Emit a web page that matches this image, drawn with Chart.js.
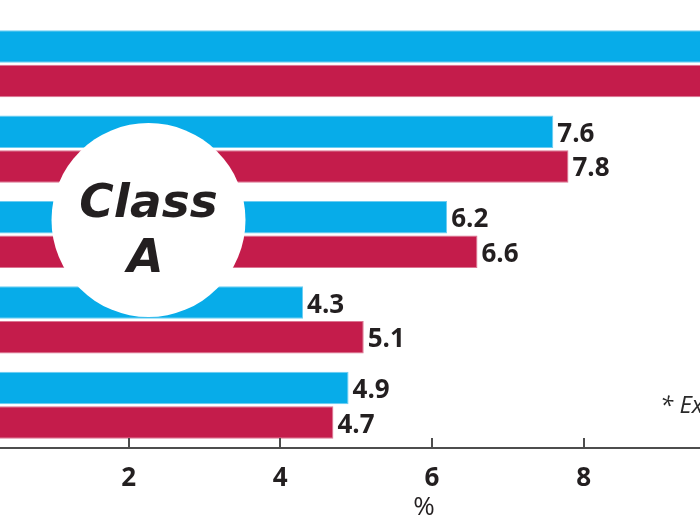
<!DOCTYPE html>
<html>
<head>
    <meta charset="UTF-8">
    <title>Class A</title>
    <script src="https://cdn.jsdelivr.net/npm/chart.js@4.4.1/dist/chart.umd.min.js"></script>
    <style>
        html, body { margin: 0; padding: 0; width: 700px; height: 525px; overflow: hidden; background: #fff; }
        #wrap { position: relative; width: 700px; height: 525px; overflow: hidden; }
        #myChart { position: absolute; left: -23px; top: 0; }
    </style>
</head>
<body>
<div id="wrap">
    <canvas id="myChart" width="900" height="525"></canvas>
</div>
<script>
    // rows top to bottom (row names are cut off in the source picture)
    var categories = ['Row 1', 'Row 2', 'Row 3', 'Row 4', 'Row 5'];
    var blueValues = [10.3, 7.6, 6.2, 4.3, 4.9];
    var redValues = [10.5, 7.8, 6.6, 5.1, 4.7];
    var tickValues = [0, 2, 4, 6, 8, 10];
    var axisTitle = '%';
    var badgeLines = ['Class', 'A'];
    var footNote = '* Ex';

    var ink = '#231f20';

    var extras = {
        id: 'extras',
        afterDatasetsDraw: function(chart) {
            var ctx = chart.ctx;
            var area = chart.chartArea;
            var xs = chart.scales.x;
            ctx.save();

            // small ticks pointing up from the axis
            ctx.strokeStyle = '#4d4d4d';
            ctx.lineWidth = 2;
            tickValues.forEach(function(v) {
                if (v === 0) return;
                var px = Math.round(xs.getPixelForValue(v));
                ctx.beginPath();
                ctx.moveTo(px, area.bottom);
                ctx.lineTo(px, area.bottom - 10);
                ctx.stroke();
            });

            // white badge
            ctx.fillStyle = '#fff';
            ctx.beginPath();
            ctx.arc(171.5, 220, 97, 0, Math.PI * 2);
            ctx.fill();
            ctx.fillStyle = ink;
            ctx.font = 'italic bold 47px "DejaVu Sans", sans-serif';
            ctx.textAlign = 'center';
            ctx.textBaseline = 'alphabetic';
            ctx.fillText(badgeLines[0], 171.5, 217);
            ctx.fillText(badgeLines[1], 168.5, 272);

            // value labels
            ctx.font = 'bold 26px "Open Sans", sans-serif';
            ctx.textAlign = 'left';
            chart.data.datasets.forEach(function(ds, di) {
                chart.getDatasetMeta(di).data.forEach(function(el, i) {
                    ctx.fillText(ds.data[i].toFixed(1), el.x + 4, el.y + 10);
                });
            });

            // footnote, cut off at the right edge
            ctx.font = 'italic 24px "Open Sans", sans-serif';
            ctx.fillStyle = '#2a2a2a';
            ctx.fillText(footNote, 683, 413);
            ctx.restore();
        }
    };

    new Chart('myChart', {
        type: 'bar',
        data: {
            labels: categories,
            datasets: [{
                label: 'Blue',
                data: blueValues,
                backgroundColor: '#07ace9',
                borderColor: '#6ccdf2',
                borderWidth: 1,
                categoryPercentage: 0.81,
                barPercentage: 0.94
            }, {
                label: 'Red',
                data: redValues,
                backgroundColor: '#c41c4b',
                borderColor: '#dc7592',
                borderWidth: 1,
                categoryPercentage: 0.81,
                barPercentage: 0.94
            }]
        },
        plugins: [extras],
        options: {
            indexAxis: 'y',
            responsive: false,
            animation: false,
            devicePixelRatio: 1,
            layout: { padding: { top: 21, left: 0, right: 6, bottom: 0 } },
            plugins: {
                legend: { display: false },
                tooltip: { enabled: false }
            },
            scales: {
                y: { display: false },
                x: {
                    min: 0,
                    max: 11.79,
                    afterFit: function(s) {
                        s.height = 77;
                        s.paddingLeft = 0;
                        s.paddingRight = 0;
                    },
                    afterBuildTicks: function(s) {
                        s.ticks = tickValues.map(function(v) { return { value: v }; });
                    },
                    grid: { drawOnChartArea: false, drawTicks: false },
                    border: { display: true, color: '#4d4d4d', width: 2 },
                    ticks: {
                        padding: 15,
                        color: ink,
                        font: { family: '"Open Sans", sans-serif', size: 26, weight: 'bold' },
                        callback: function(v) { return v === 0 ? '' : v; }
                    },
                    title: {
                        display: true,
                        text: axisTitle,
                        color: ink,
                        padding: 2,
                        font: { family: '"Open Sans", sans-serif', size: 26 }
                    }
                }
            }
        }
    });
</script>
</body>
</html>
